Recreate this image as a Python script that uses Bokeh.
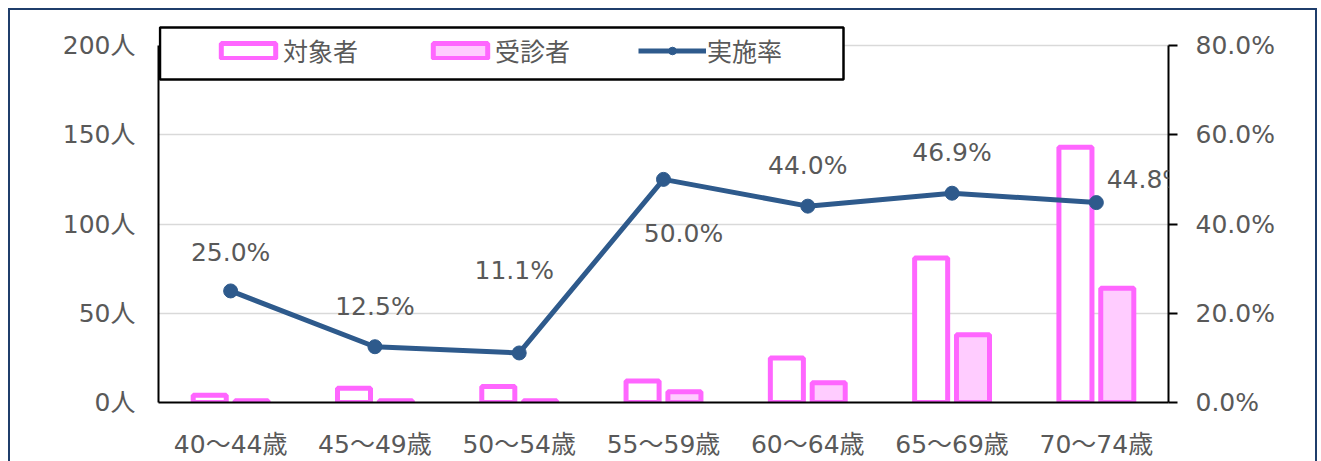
from bokeh.plotting import figure
from bokeh.models import (Range1d, FactorRange, LinearAxis, FixedTicker, ColumnDataSource,
                          Legend, LegendItem, BoxAnnotation, LabelSet, InlineStyleSheet)
from bokeh.transform import dodge
from bokeh.core.properties import value
from bokeh.embed import file_html
from bokeh.resources import INLINE

# ---- data ----
categories = ["40～44歳", "45～49歳", "50～54歳", "55～59歳", "60～64歳", "65～69歳", "70～74歳"]
target = [4, 8, 9, 12, 25, 81, 143]        # 対象者
examined = [1, 1, 1, 6, 11, 38, 64]        # 受診者
rate = [25.0, 12.5, 11.1, 50.0, 44.0, 46.9, 44.8]  # 実施率 (%)
series_names = ["対象者", "受診者", "実施率"]
count_ticks = [0, 50, 100, 150, 200]
count_tick_labels = ["0人", "50人", "100人", "150人", "200人"]
rate_ticks = [0, 20, 40, 60, 80]
rate_tick_labels = ["0.0%", "20.0%", "40.0%", "60.0%", "80.0%"]

# ---- style / layout ----
label_dx = [0, 0, -5, 20, 0, 0, 50]      # px offsets of the value labels
label_dy = [38, 40, 82, -54, 41, 41, 23]
FONT = "DejaVu Sans, Noto Sans CJK JP"
TXT = "#595959"
PINK = "#FF66FF"
PINK_FILL = "#FFCCFF"
BLUE = "#2E5A8C"
NAVY = "#1F3D6B"

W, H = 1321, 461
FRAME_L, FRAME_R = 158, 1168
FRAME_T, AXIS_TOP, FRAME_B = 24, 45, 402
# extend the value ranges so the top tick sits at AXIS_TOP while the frame reaches FRAME_T
ext = (FRAME_B - FRAME_T) / (FRAME_B - AXIS_TOP)

src = ColumnDataSource(dict(
    cat=categories, target=target, examined=examined, rate=rate,
    label=[f"{r:.1f}%" for r in rate], dx=label_dx, dy=label_dy,
))

p = figure(width=W, height=H, x_range=FactorRange(*categories),
           y_range=Range1d(0, count_ticks[-1] * ext),
           output_backend="svg", toolbar_location=None,
           min_border_left=FRAME_L, min_border_right=W - FRAME_R,
           min_border_top=FRAME_T, min_border_bottom=H - FRAME_B)
p.extra_y_ranges = {"rate": Range1d(0, rate_ticks[-1] * ext)}
p.outline_line_color = None
p.background_fill_color = "white"
p.border_fill_color = "white"

# outer navy frame (left, top, right sides) drawn by CSS over the canvas
p.stylesheets = [InlineStyleSheet(css=(
    ":host { position: relative; }"
    ":host::after { content: ''; position: absolute; left: 8px; top: 8px; "
    "width: 1309px; height: 453px; box-sizing: border-box; "
    f"border: 2px solid {NAVY}; border-bottom: none; pointer-events: none; z-index: 10; }}"
))]

p.xgrid.visible = False
p.ygrid.ticker = FixedTicker(ticks=count_ticks)
p.ygrid.grid_line_color = "#D9D9D9"
p.ygrid.grid_line_width = 1.5

# legend box (white, black border)
p.add_layout(BoxAnnotation(left=FRAME_L + 1.5, right=843, top=27, bottom=79,
                           left_units="canvas", right_units="canvas",
                           top_units="canvas", bottom_units="canvas",
                           fill_color="white", fill_alpha=1, line_color="black",
                           line_width=2.5, line_alpha=1))

r1 = p.vbar(x=dodge("cat", -0.145, range=p.x_range), top="target", width=0.229, source=src,
            fill_color="white", line_color=PINK, line_width=5)
r2 = p.vbar(x=dodge("cat", 0.145, range=p.x_range), top="examined", width=0.229, source=src,
            fill_color=PINK_FILL, line_color=PINK, line_width=5)
r3 = p.line(x="cat", y="rate", y_range_name="rate", source=src, line_color=BLUE, line_width=5)
r4 = p.scatter(x="cat", y="rate", y_range_name="rate", source=src, size=14,
               fill_color=BLUE, line_color=BLUE)

labels = LabelSet(x="cat", y="rate", y_range_name="rate", text="label", source=src,
                  x_offset="dx", y_offset="dy", text_align="center", text_baseline="middle",
                  text_font=value(FONT), text_font_size="25px", text_color=TXT)
p.add_layout(labels)

legend = Legend(items=[LegendItem(label=series_names[0], renderers=[r1]),
                       LegendItem(label=series_names[1], renderers=[r2]),
                       LegendItem(label=series_names[2], renderers=[r3, r4])],
                orientation="horizontal", location=(56, FRAME_B - 68),
                glyph_width=68, glyph_height=19, label_standoff=1, label_width=75,
                label_height=30, spacing=68, padding=0, margin=0,
                border_line_alpha=0, background_fill_alpha=0,
                label_text_font=FONT, label_text_font_size="25px", label_text_color=TXT)
p.add_layout(legend, "center")

# left axis
la = p.yaxis[0]
la.ticker = FixedTicker(ticks=count_ticks)
la.bounds = (count_ticks[0], count_ticks[-1])
la.major_label_overrides = dict(zip(count_ticks, count_tick_labels))
la.axis_line_color = "black"
la.axis_line_width = 2
la.major_tick_out = 0
la.major_tick_in = 0
la.major_tick_line_color = None
la.minor_tick_line_color = None
la.major_label_standoff = 23
la.major_label_text_font = FONT
la.major_label_text_font_size = "25px"
la.major_label_text_color = TXT

# right axis
ra = LinearAxis(y_range_name="rate", ticker=FixedTicker(ticks=rate_ticks))
ra.bounds = (rate_ticks[0], rate_ticks[-1])
ra.major_label_overrides = dict(zip(rate_ticks, rate_tick_labels))
ra.axis_line_color = "black"
ra.axis_line_width = 2
ra.major_tick_out = 9
ra.major_tick_in = 0
ra.major_tick_line_color = "black"
ra.major_tick_line_width = 2
ra.minor_tick_line_color = None
ra.major_label_standoff = 18
ra.major_label_text_font = FONT
ra.major_label_text_font_size = "25px"
ra.major_label_text_color = TXT
p.add_layout(ra, "right")

# bottom axis
xa = p.xaxis[0]
xa.axis_line_color = "black"
xa.axis_line_width = 2
xa.major_tick_out = 0
xa.major_tick_in = 0
xa.major_tick_line_color = None
xa.minor_tick_line_color = None
xa.major_label_standoff = 27
xa.major_label_text_font = FONT
xa.major_label_text_font_size = "25px"
xa.major_label_text_color = TXT

open("out.html", "w").write(file_html(p, INLINE))
